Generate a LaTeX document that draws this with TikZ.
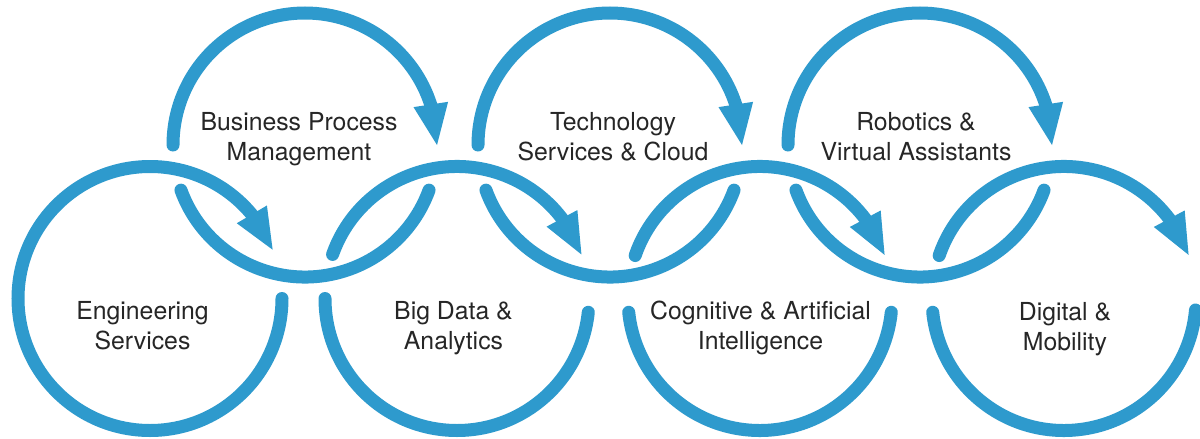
\documentclass[tikz,border=0pt]{standalone}
\usepackage{fontspec}
\setmainfont{TeX Gyre Heros}
\usetikzlibrary{arrows.meta,bending,calc}
\definecolor{ringblue}{RGB}{46,154,205}
\definecolor{txtgray}{RGB}{38,38,38}
\newcommand{\ringpart}[4]{\draw[#4] ($(#1)+(#2:132)$) arc[start angle=#2,end angle=#3,radius=132];}
\begin{document}
\begin{tikzpicture}[x=0.5pt,y=-0.5pt,
  ringline/.style={draw=ringblue,line width=6.5pt,line cap=round},
  ringarrow/.style={ringline,-{Triangle[length=20.5pt,width=17.5pt,line width=0pt]}},
  ringtext/.style={inner sep=0pt,align=center,text=txtgray,font=\fontsize{12.4}{15}\selectfont}]
\fill[white] (0,0) rectangle (1200,439);
\useasboundingbox (0,0) rectangle (1200,439);
% circle centres
\coordinate (E)  at (150,298.5);
\coordinate (B)  at (305,145);
\coordinate (BD) at (457,298.5);
\coordinate (T)  at (610,145);
\coordinate (C)  at (760,298.5);
\coordinate (R)  at (920,145);
\coordinate (D)  at (1064,298.5);
% Engineering ring
\ringpart{E}{0}{338.3}{ringarrow}
% Business Process ring
\ringpart{B}{180}{360}{ringarrow}
\ringpart{B}{160}{20}{ringline}
% Big Data ring
\ringpart{BD}{180}{6}{ringline}
\ringpart{BD}{199.5}{340.5}{ringarrow}
% Technology ring
\ringpart{T}{180}{360}{ringarrow}
\ringpart{T}{160}{20}{ringline}
% Cognitive ring
\ringpart{C}{174}{6}{ringline}
\ringpart{C}{199}{340.7}{ringarrow}
% Robotics ring
\ringpart{R}{180}{360}{ringarrow}
\ringpart{R}{160}{20}{ringline}
% Digital ring
\ringpart{D}{174}{5}{ringline}
\ringpart{D}{199}{340.7}{ringarrow}
% labels
\node[ringtext] (bpm)  at (299,139)  {\strut Business Process\\\strut Management};
\node[ringtext] (tech) at (613,139)  {\strut Technology\\\strut Services \& Cloud};
\node[ringtext] (rob)  at (916,139)  {\strut Robotics \&\\\strut Virtual Assistants};
\node[ringtext] (eng)  at (142.5,328) {\strut Engineering\\\strut Services};
\node[ringtext] (big)  at (453.5,328) {\strut Big Data \&\\\strut Analytics};
\node[ringtext] (cog)  at (760.5,328) {\strut Cognitive \& Artificial\\\strut Intelligence};
\node[ringtext] (dig)  at (1065,329) {\strut Digital \&\\\strut Mobility};
\end{tikzpicture}
\end{document}
